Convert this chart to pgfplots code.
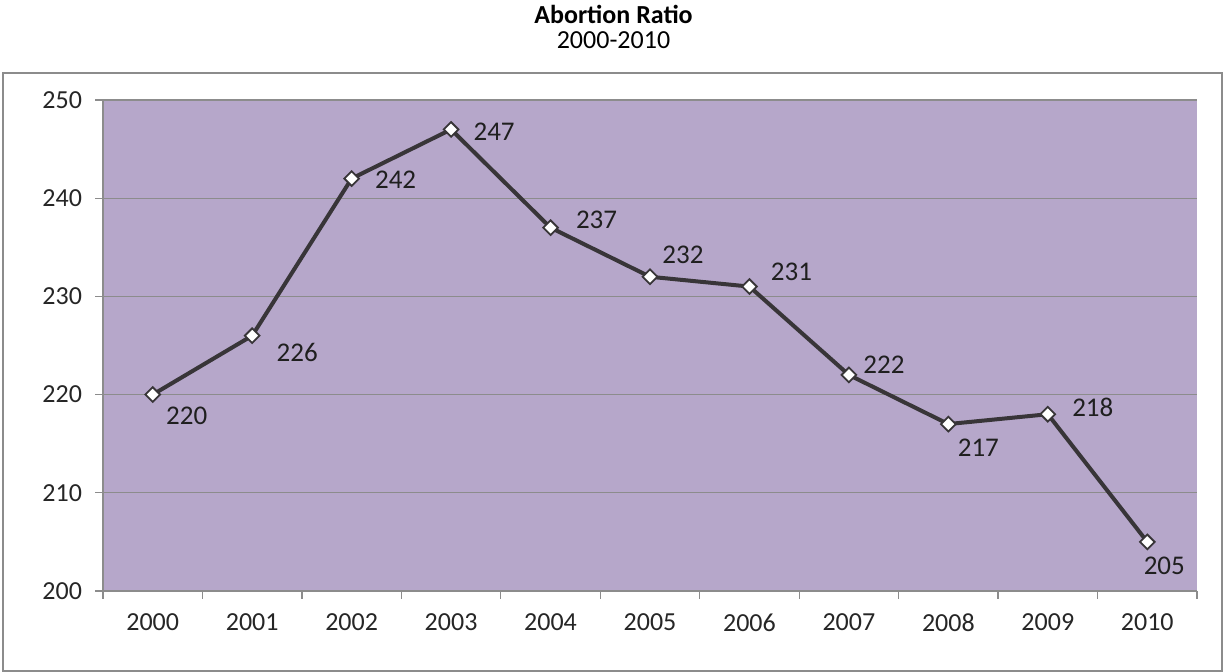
\documentclass[border=0pt]{standalone}
\usepackage{fontspec}
\setmainfont{Carlito}
\usepackage{pgfplots}
\pgfplotsset{compat=1.18}
\definecolor{plotbg}{HTML}{B6A7CA}
\definecolor{axgray}{HTML}{8C8C8C}
\definecolor{linec}{HTML}{383538}
\begin{document}
\begin{tikzpicture}
\path[use as bounding box] (0,0) rectangle (613.5pt,-336pt);
\draw[axgray, line width=0.6pt] (1.5pt,-36.5pt) rectangle (611pt,-335.5pt);
\node[font=\fontsize{13}{15}\selectfont\bfseries] at (306.75pt,-7pt) {Abortion Ratio};
\node[font=\fontsize{13}{15}\selectfont] at (306.75pt,-20pt) {2000-2010};
\begin{axis}[
  at={(51.5pt,-295.5pt)}, anchor=south west,
  scale only axis, width=547pt, height=245.5pt,
  xmin=-0.5, xmax=10.5, ymin=200, ymax=250,
  axis background/.style={fill=plotbg},
  axis line style={axgray, line width=0.6pt},
  axis x line*=bottom, axis y line*=left,
  xtick={0,...,10},
  xticklabels={2000,2001,2002,2003,2004,2005,2006,2007,2008,2009,2010},
  major x tick style={draw=none},
  minor xtick={-0.5,0.5,...,10.5},
  minor tick length=4pt,
  x tick style={axgray, line width=0.6pt},
  ytick={200,210,...,250},
  y tick style={axgray, line width=0.6pt},
  major tick length=4pt,
  tick align=outside,
  ymajorgrids, grid style={axgray, line width=0.6pt},
  tick label style={font=\fontsize{13}{15}\selectfont, text=black!85},
  /pgf/number format/assume math mode=true,
  xticklabel style={yshift=-4pt},
  yticklabel style={xshift=-3pt},
  clip=false,
]
\addplot[linec, line width=2pt, mark=square*, mark size=2.6pt,
  mark options={fill=white, draw=linec, line width=0.9pt, rotate=45}]
  coordinates {(0,220) (1,226) (2,242) (3,247) (4,237) (5,232) (6,231) (7,222) (8,217) (9,218) (10,205)};
\begin{scope}[every node/.style={font=\fontsize{13.5}{15}\selectfont, text=black!88}]
\node[xshift=17pt, yshift=-10.5pt] at (axis cs:0,220) {220};
\node[xshift=22.5pt, yshift=-8.5pt] at (axis cs:1,226) {226};
\node[xshift=22pt, yshift=-0.5pt] at (axis cs:2,242) {242};
\node[xshift=21.5pt, yshift=-1pt] at (axis cs:3,247) {247};
\node[xshift=23pt, yshift=4pt] at (axis cs:4,237) {237};
\node[xshift=16.5pt, yshift=11pt] at (axis cs:5,232) {232};
\node[xshift=21pt, yshift=7.5pt] at (axis cs:6,231) {231};
\node[xshift=17.5pt, yshift=5pt] at (axis cs:7,222) {222};
\node[xshift=15pt, yshift=-12pt] at (axis cs:8,217) {217};
\node[xshift=22.5pt, yshift=3.5pt] at (axis cs:9,218) {218};
\node[xshift=8.5pt, yshift=-12pt] at (axis cs:10,205) {205};
\end{scope}
\end{axis}
\end{tikzpicture}
\end{document}
